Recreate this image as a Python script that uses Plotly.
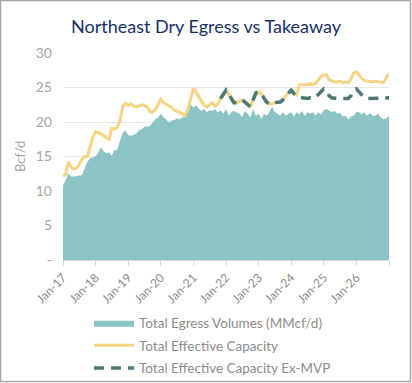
import pandas as pd
import plotly.graph_objects as go

# Monthly dates Jan-17 .. Jan-27
months = pd.date_range("2017-01-01", periods=121, freq="MS")

egress = [
    10.8, 11.6, 12.6, 12.1, 12.1, 12.2, 12.3, 12.3, 13.3, 14.2, 14.8, 14.9,
    15.0, 15.6, 16.3, 15.8, 15.4, 15.6, 15.1, 15.9, 16.0, 17.2, 18.4, 18.8,
    18.1, 18.0, 18.2, 18.3, 18.8, 18.9, 19.3, 19.3, 19.4, 19.9, 20.4, 20.6,
    21.2, 20.7, 20.4, 19.9, 20.2, 20.3, 20.5, 20.4, 20.7, 20.9, 21.6, 22.5,
    22.1, 22.4, 22.0, 21.6, 21.9, 21.4, 21.7, 21.6, 21.9, 21.4, 21.7, 21.2,
    21.9, 20.9, 21.4, 21.6, 21.4, 21.2, 20.7, 21.6, 21.2, 20.7, 21.9, 20.9,
    21.2, 20.4, 21.2, 20.9, 21.4, 22.2, 21.5, 21.2, 20.9, 21.4, 20.9, 21.2,
    21.4, 20.8, 21.4, 21.1, 21.6, 20.9, 21.4, 21.2, 21.4, 20.9, 21.4, 21.1,
    21.7, 21.9, 21.6, 21.4, 21.6, 21.2, 21.3, 20.8, 20.9, 20.4, 20.8, 20.9,
    21.5, 21.4, 21.1, 21.4, 20.9, 21.3, 20.9, 20.9, 21.2, 20.7, 20.4, 20.5,
    20.9,
]

capacity = [
    12.1, 12.5, 14.2, 13.5, 13.2, 13.3, 13.8, 14.6, 15.0, 15.0, 16.4, 17.8,
    18.6, 18.5, 18.3, 18.0, 17.7, 17.5, 19.1, 19.0, 19.2, 20.2, 22.2, 22.7,
    22.4, 22.6, 22.3, 22.2, 22.3, 22.5, 22.4, 22.2, 21.5, 21.4, 21.8, 22.5,
    23.3, 22.8, 22.6, 22.3, 22.1, 21.7, 21.6, 21.4, 21.2, 20.9, 21.8, 23.2,
    24.9, 24.3, 23.6, 23.0, 22.5, 22.2, 22.5, 22.8, 22.3, 22.6, 23.4, 24.0,
    24.6, 24.0, 23.4, 22.8, 22.8, 23.0, 23.2, 22.9, 22.6, 22.2, 23.2, 24.2,
    24.4, 24.1, 23.5, 22.9, 22.6, 22.6, 22.8, 22.8, 22.9, 23.2, 23.7, 24.3,
    24.6, 24.1, 23.8, 25.4, 25.4, 25.5, 25.4, 25.6, 25.4, 25.6, 26.1, 26.6,
    26.8, 26.8, 26.1, 25.9, 25.8, 25.8, 25.9, 25.7, 25.8, 25.7, 26.2, 27.1,
    27.3, 26.8, 26.3, 26.0, 25.9, 25.9, 25.8, 25.9, 25.8, 25.8, 25.7, 26.4,
    27.0,
]

# Ex-MVP series starts Nov-21
exmvp_start = 58
capacity_ex_mvp = [
    23.4, 24.0,
    24.6, 24.0, 23.4, 22.8, 22.8, 23.0, 23.2, 22.9, 22.6, 22.2, 23.2, 24.2,
    24.4, 24.1, 23.5, 22.9, 22.6, 22.6, 22.8, 22.8, 22.9, 23.2, 23.7, 24.3,
    24.6, 24.1, 23.7, 23.6, 23.5, 23.5, 23.4, 23.5, 23.4, 23.6, 24.0, 24.5,
    24.8, 24.6, 23.8, 23.5, 23.4, 23.4, 23.4, 23.4, 23.5, 23.4, 23.8, 24.6,
    24.8, 24.3, 23.8, 23.5, 23.4, 23.4, 23.4, 23.4, 23.4, 23.4, 23.4, 23.5,
    23.5,
]

tick_dates = pd.date_range("2017-01-01", periods=11, freq="12MS")
tick_labels = ["Jan-17", "Jan-18", "Jan-19", "Jan-20", "Jan-21", "Jan-22",
               "Jan-23", "Jan-24", "Jan-25", "Jan-26", ""]
y_ticks = [0, 5, 10, 15, 20, 25, 30]
y_labels = ["-", "5", "10", "15", "20", "25", "30"]

GREY = "#8C8C8C"
FONT = "Lato"

fig = go.Figure()
fig.add_trace(go.Scatter(
    x=months, y=egress, name="Total Egress Volumes (MMcf/d)",
    mode="lines", fill="tozeroy", fillcolor="#8CC4C6", legendgroup="a",
    line=dict(color="#8CC4C6", width=0),
))
fig.add_trace(go.Scatter(
    x=months, y=capacity, name="Total Effective Capacity", legendgroup="b",
    mode="lines", line=dict(color="#F5D483", width=3),
))
fig.add_trace(go.Scatter(
    x=months[exmvp_start:], y=capacity_ex_mvp, name="Total Effective Capacity Ex-MVP",
    legendgroup="c",
    mode="lines", line=dict(color="#4B7877", width=3.5, dash="10px,7px"),
))

fig.update_layout(
    width=412, height=383,
    paper_bgcolor="white", plot_bgcolor="white",
    margin=dict(l=63, r=23, t=53, b=123, autoexpand=False),
    title=dict(text="Northeast Dry Egress vs Takeaway", x=0.5, xanchor="center",
               y=1 - 27 / 383, yanchor="middle",
               font=dict(family=FONT, size=18, color="#18306A")),
    font=dict(family=FONT, color=GREY),
    showlegend=True,
    legend=dict(xref="container", yref="container",
                x=89 / 412, xanchor="left", y=1 - 307.5 / 383, yanchor="top",
                font=dict(family=FONT, size=13.5, color=GREY),
                tracegroupgap=2, itemwidth=40, bgcolor="rgba(0,0,0,0)"),
    xaxis=dict(
        range=[months[0], months[-1]], tickmode="array",
        tickvals=tick_dates, ticktext=tick_labels, tickangle=-45,
        tickfont=dict(size=12, color=GREY),
        showgrid=False, showline=True, linecolor="#D9D9D9", linewidth=1,
        ticks="outside", ticklen=5, tickcolor="#D9D9D9",
    ),
    yaxis=dict(
        range=[0, 30], tickmode="array", tickvals=y_ticks, ticktext=y_labels,
        tickfont=dict(size=14, color="#A6A6A6"),
        showgrid=True, gridcolor="#E6E6E6", gridwidth=1,
        zeroline=False, showline=False, ticks="", ticklabelstandoff=10,
    ),
    annotations=[dict(text="Bcf/d", xref="paper", yref="paper",
                      x=(20 - 63) / 326, y=(260 - 157) / 207,
                      xanchor="center", yanchor="middle", textangle=-90,
                      showarrow=False, font=dict(family=FONT, size=13, color="#A6A6A6"))],
    shapes=[dict(type="rect", xref="paper", yref="paper",
                 x0=-62.5 / 326, x1=(410.5 - 63) / 326,
                 y0=(260 - 381.5) / 207, y1=(260 - 0.5) / 207,
                 line=dict(color="#A6A6A6", width=1.5), fillcolor="rgba(0,0,0,0)",
                 layer="above")],
)

fig.write_html(
    "out.html",
    config={"displayModeBar": False},
    post_script="document.body.style.margin='0';document.body.style.overflow='hidden';",
)
